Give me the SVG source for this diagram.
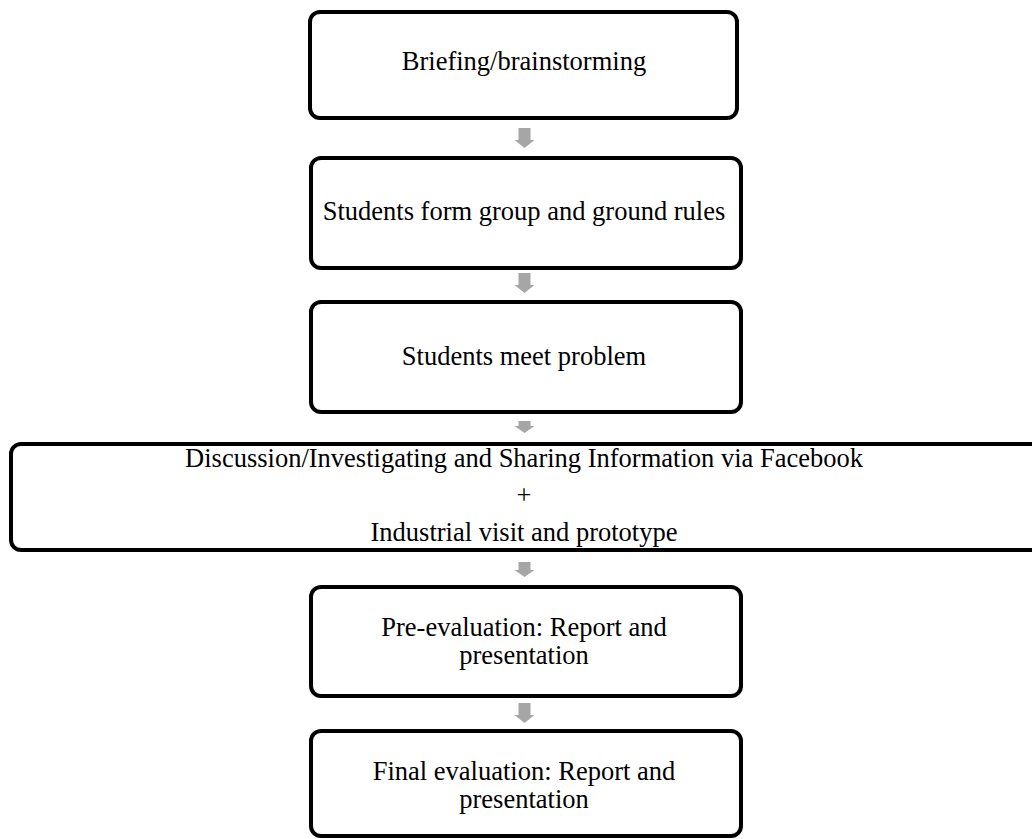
<svg xmlns="http://www.w3.org/2000/svg" width="1032" height="839" viewBox="0 0 1032 839">
<style>
.box{fill:#fff;stroke:#000;stroke-width:4}
.t{font-family:"Liberation Serif","Times New Roman",serif;font-size:26.5px;fill:#000;text-anchor:middle}
.arr{fill:#a6a6a6;stroke:none}
</style>
<rect width="1032" height="839" fill="#fff"/>
<g id="connectors">
<path class="arr" d="M518.5,128 h12 v12 h4 l-10,8 l-10,-8 h4 z"/>
<path class="arr" d="M518.5,273 h12 v12 h4 l-10,8 l-10,-8 h4 z"/>
<path class="arr" d="M518.5,421 h12 v5 h4 l-10,7 l-10,-7 h4 z"/>
<path class="arr" d="M518.5,562 h12 v8 h4 l-10,7 l-10,-7 h4 z"/>
<path class="arr" d="M518.5,703 h12 v12 h4 l-10,8 l-10,-8 h4 z"/>
</g>
<g id="n1">
<rect class="box" x="310" y="12" width="427" height="106" rx="10"/>
<text class="t" x="524" y="70">Briefing/brainstorming</text>
</g>
<g id="n2">
<rect class="box" x="311" y="158" width="430" height="110" rx="10"/>
<text class="t" x="524" y="220">Students form group and ground rules</text>
</g>
<g id="n3">
<rect class="box" x="311" y="302" width="430" height="110" rx="10"/>
<text class="t" x="524" y="365">Students meet problem</text>
</g>
<g id="n4">
<rect class="box" x="11" y="444" width="1030" height="106" rx="10"/>
<text class="t" x="524" y="467">Discussion/Investigating and Sharing Information via Facebook</text>
<text class="t" x="524" y="504">+</text>
<text class="t" x="524" y="541">Industrial visit and prototype</text>
</g>
<g id="n5">
<rect class="box" x="311" y="587" width="430" height="109" rx="10"/>
<text class="t" x="524" y="636">Pre-evaluation: Report and</text>
<text class="t" x="524" y="664">presentation</text>
</g>
<g id="n6">
<rect class="box" x="311" y="731" width="430" height="105" rx="10"/>
<text class="t" x="524" y="780">Final evaluation: Report and</text>
<text class="t" x="524" y="808">presentation</text>
</g>
</svg>
